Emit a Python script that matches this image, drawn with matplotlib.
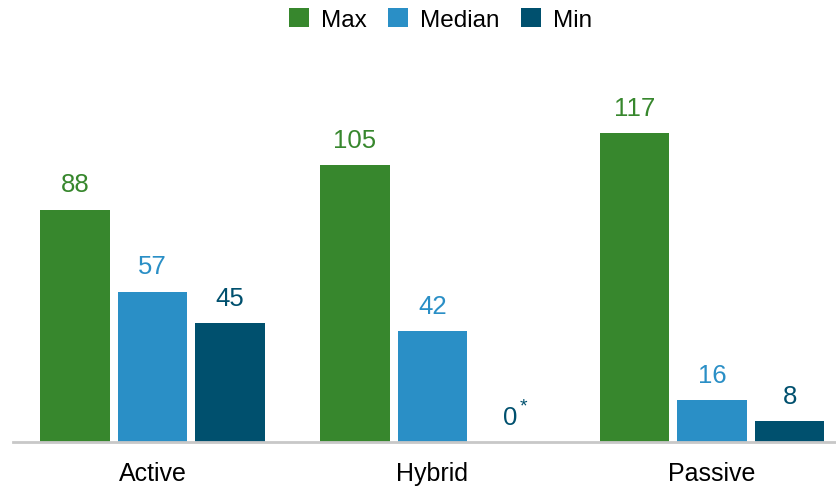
import numpy as np
import matplotlib
matplotlib.use("Agg")
import matplotlib.pyplot as plt

plt.rcParams["font.family"] = ["Liberation Sans", "DejaVu Sans"]

categorias = ["Active", "Hybrid", "Passive"]
series = ["Max", "Median", "Min"]
valores_max = [88, 105, 117]
valores_median = [57, 42, 16]
valores_min = [45, 0, 8]
cores = ["#37872d", "#2a8fc6", "#00506e"]

fig = plt.figure(figsize=(8.36, 4.89), dpi=100)
ax = fig.add_axes([13 / 836, 46 / 489, 823 / 836, 443 / 489])

x = np.arange(len(categorias))
largura = 0.248
passo = 0.277

for i, (nome, vals) in enumerate(zip(series, [valores_max, valores_median, valores_min])):
    pos = x + (i - 1) * passo
    ax.bar(pos, vals, width=largura, color=cores[i], label=nome)
    for p, v in zip(pos, vals):
        ax.annotate(str(v), (p, v), xytext=(0, 9.5), textcoords="offset points",
                    ha="center", va="bottom", fontsize=18.5, color=cores[i])
        if v == 0:
            ax.annotate("*", (p, v), xytext=(10, 20), textcoords="offset points",
                        ha="center", va="bottom", fontsize=14, color=cores[i])

ax.set_xlim(-0.499, 2.443)
ax.set_ylim(0, 167.8)
ax.set_xticks(x)
ax.set_xticklabels(categorias, fontsize=18)
ax.tick_params(axis="x", length=0, pad=13.5)
ax.set_yticks([])
for lado in ["top", "right", "left"]:
    ax.spines[lado].set_visible(False)
ax.spines["bottom"].set_color("#c8c8c8")
ax.spines["bottom"].set_linewidth(2)

fig.legend(loc="upper center", bbox_to_anchor=(0.527, 1.026), ncol=3, frameon=False,
           fontsize=17.5, handlelength=0.8, handleheight=0.8, handletextpad=0.5,
           columnspacing=0.9)

fig.savefig("out.png", dpi=100)
